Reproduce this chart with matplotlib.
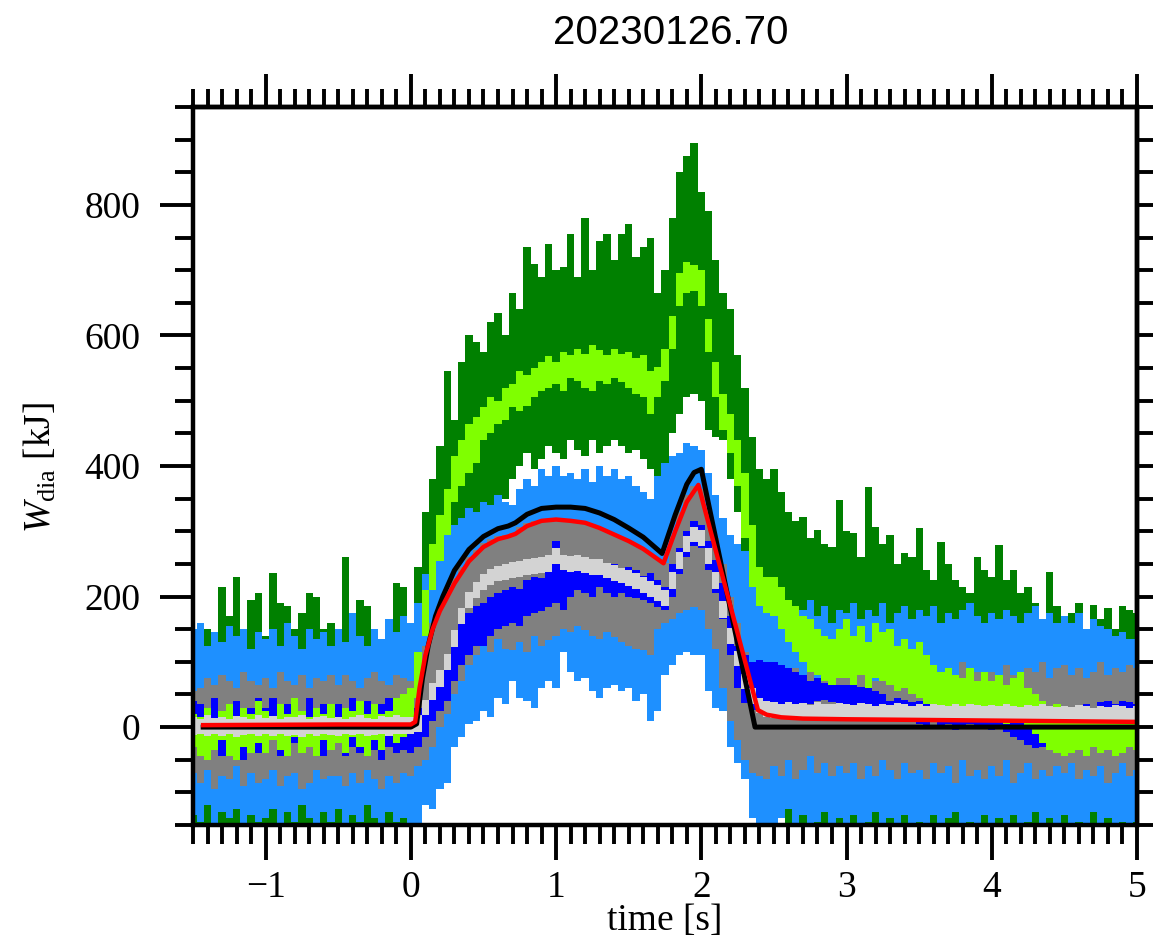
import numpy as np
import matplotlib
matplotlib.use('Agg')
import matplotlib.pyplot as plt
from matplotlib.ticker import MultipleLocator, NullFormatter

plt.rcParams['font.family'] = ['Liberation Serif', 'DejaVu Serif']
plt.rcParams['mathtext.fontset'] = 'custom'
plt.rcParams['mathtext.rm'] = 'Liberation Serif'
plt.rcParams['mathtext.it'] = 'Liberation Serif:italic'

shot = '20230126.70'

# common time base of the noisy traces, 50 ms bins from -1.5 s to 5 s
t = np.round(np.linspace(-1.5, 5.0, 131), 2)

# raw diamagnetic energy, loop 1 (dark green) - lower / upper envelope [kJ]
dg_hi = [120, 110, 150, 140, 215, 170, 230, 150, 195, 205,
         140, 236, 190, 185, 150, 175, 205, 200, 150, 160,
         140, 260, 150, 195, 185, 150, 130, 135, 220, 215,
         160, 245, 330, 380, 430, 545, 470, 560, 600, 590,
         575, 620, 635, 600, 665, 640, 735, 710, 690, 740,
         700, 705, 755, 690, 780, 700, 745, 755, 715, 755,
         770, 720, 735, 750, 665, 700, 780, 850, 875, 895,
         820, 790, 715, 665, 640, 570, 520, 445, 395, 380,
         395, 360, 330, 315, 322, 290, 302, 280, 276, 348,
         300, 297, 260, 368, 307, 280, 294, 250, 267, 261,
         305, 240, 225, 283, 250, 225, 215, 205, 261, 240,
         230, 279, 225, 241, 205, 215, 190, 159, 238, 185,
         164, 175, 190, 150, 187, 165, 182, 150, 185, 180,
         175]
dg_lo = [-160] * 30 + [
         -160, -150, 100, 150, 200, 240, 270, 290, 310, 320,
         330, 320, 345, 350, 380, 400, 420, 395, 410, 430,
         420, 410, 440, 425, 415, 440, 420, 430, 440, 430,
         420, 425, 410, 395, 380, 400, 450, 480, 505, 510,
         500, 455, 445, 440, 380, 330, 260, 200, 130, 60,
         -60, -120] + [-160] * 49

# loop 1 smoothed (chartreuse)
lg_hi = [20, 15, 30, 10, 25, 35, 15, 30, 20, 40,
         25, 15, 35, 20, 45, 25, 15, 30, 20, 35,
         15, 30, 25, 40, 20, 35, 20, 25, 45, 50,
         60, 115, 210, 280, 325, 365, 415, 440, 465, 475,
         490, 505, 500, 520, 525, 545, 540, 550, 560, 568,
         560, 575, 570, 580, 572, 585, 578, 570, 580, 572,
         575, 565, 570, 545, 552, 580, 630, 695, 712, 708,
         700, 625, 560, 510, 480, 440, 390, 310, 245, 230,
         230, 215, 195, 185, 170, 165, 150, 140, 135, 150,
         165, 140, 155, 130, 160, 145, 150, 125, 135, 120,
         130, 110, 95, 85, 90, 80, 75, 90, 70, 85,
         70, 80, 65, 75, 85, 60, 50, 40, 30, 35,
         25, 20, 30, 15, 25, 20, 30, 25, 20, 25,
         20]
lg_lo = [-30, -45, -50, -35, -20, -45, -50, -30, -40, -25,
         -40, -20, -35, -45, -15, -40, -30, -45, -20, -35,
         -25, -40, -15, -30, -45, -20, -35, -10, -25, -15,
         -10, 45, 140, 210, 255, 295, 345, 370, 390, 405,
         440, 450, 465, 470, 490, 485, 492, 505, 515, 520,
         525, 515, 535, 530, 520, 515, 530, 525, 535, 528,
         520, 510, 505, 480, 505, 530, 580, 645, 665, 668,
         645, 575, 505, 455, 420, 370, 290, 215, 185, 175,
         170, 150, 130, 115, 100, 85, 80, 70, 65, 75,
         75, 65, 80, 60, 75, 70, 65, 55, 60, 50,
         45, 35, 20, 25, 15, 20, 10, 20, 15, 25,
         10, 15, 5, 15, 20, 0, -10, -25, -35, -40,
         -45, -40, -35, -45, -30, -40, -35, -45, -40, -30,
         -35]

# raw, loop 2 (dodgerblue)
db_hi = [150, 160, 125, 145, 130, 155, 140, 150, 120, 145,
         135, 150, 125, 160, 140, 120, 150, 135, 145, 125,
         150, 130, 175, 140, 125, 150, 135, 165, 145, 170,
         160, 190, 235, 265, 285, 300, 310, 320, 335, 330,
         345, 340, 355, 345, 340, 365, 380, 370, 395, 385,
         400, 385, 390, 380, 395, 375, 400, 385, 395, 380,
         385, 370, 360, 350, 385, 405, 415, 420, 435, 430,
         425, 390, 355, 320, 295, 280, 270, 225, 205, 195,
         185, 175, 190, 165, 180, 195, 170, 185, 160, 180,
         175, 190, 165, 180, 170, 190, 160, 175, 185, 165,
         180, 170, 185, 160, 175, 165, 180, 190, 170, 160,
         175, 165, 180, 170, 160, 175, 185, 165, 175, 160,
         170, 160, 175, 150, 165, 155, 150, 140, 145, 135,
         135]
db_lo = [-135, -145, -120, -150, -130, -140, -125, -150, -135, -145,
         -140, -125, -150, -130, -145, -120, -140, -150, -130, -145,
         -125, -150, -135, -145, -120, -140, -150, -130, -145, -140,
         -150, -160, -120, -125, -95, -85, -30, -15, 5, 10,
         25, 15, 45, 35, 70, 45, 40, 30, 60, 70,
         60, 115, 85, 70, 75, 55, 45, 60, 65, 55,
         60, 40, 50, 10, 25, 80, 95, 110, 115, 110,
         110, 55, 30, 25, -30, -55, -80, -140, -150, -155,
         -150, -140, -125, -155, -135, -150, -145, -130, -155, -140,
         -150, -135, -155, -145, -130, -150, -140, -155, -135, -150,
         -145, -155, -135, -150, -140, -130, -155, -145, -150, -135,
         -150, -140, -155, -135, -150, -145, -130, -155, -140, -150,
         -135, -150, -145, -155, -130, -150, -140, -155, -145, -150,
         -145]

# raw, loop 3 (gray)
gr_hi = [55, 60, 75, 65, 80, 70, 60, 85, 70, 65,
         75, 60, 85, 70, 65, 80, 60, 75, 70, 80,
         65, 80, 70, 60, 75, 85, 70, 65, 80, 75,
         70, 90, 125, 160, 185, 208, 228, 245, 260, 272,
         282, 288, 292, 294, 298, 306, 312, 316, 318, 318,
         320, 318, 316, 315, 312, 310, 305, 300, 296, 290,
         285, 278, 272, 265, 258, 252, 292, 330, 355, 370,
         365, 330, 290, 250, 200, 160, 115, 75, 100, 95,
         85, 95, 75, 90, 80, 100, 70, 85, 95, 80,
         90, 75, 85, 100, 70, 95, 80, 90, 75, 85,
         80, 95, 70, 85, 90, 75, 100, 80, 85, 70,
         85, 75, 95, 80, 70, 90, 85, 100, 75, 90,
         95, 80, 90, 75, 85, 100, 80, 90, 85, 95,
         90]
gr_lo = [-70, -85, -65, -95, -75, -80, -60, -90, -70, -85,
         -80, -65, -90, -75, -70, -95, -85, -65, -80, -75,
         -75, -90, -70, -85, -65, -80, -95, -75, -85, -70,
         -75, -60, -50, -30, 0, 20, 50, 70, 95, 110,
         125, 115, 135, 120, 118, 130, 115, 140, 125, 133,
         140, 150, 145, 155, 149, 140, 135, 145, 138, 130,
         125, 120, 118, 110, 150, 159, 165, 175, 180, 184,
         180, 150, 120, 60, 10, -20, -50, -70, -75, -80,
         -60, -75, -50, -80, -65, -45, -70, -55, -75, -60,
         -70, -55, -80, -60, -75, -50, -65, -80, -55, -70,
         -65, -80, -55, -70, -60, -85, -50, -75, -65, -80,
         -60, -75, -50, -85, -70, -55, -80, -65, -75, -60,
         -70, -55, -80, -65, -75, -60, -85, -70, -55, -75,
         -65]

# loop 2 smoothed (blue)
bl_hi = [40, 35, 30, 45, 20, 35, 40, 25, 30, 45,
         30, 45, 25, 35, 40, 20, 45, 30, 35, 25,
         35, 25, 45, 30, 40, 20, 35, 45, 30, 25,
         25, 30, 40, 65, 85, 95, 130, 160, 175, 185,
         190, 200, 205, 210, 215, 212, 225, 230, 228, 240,
         285, 240, 250, 256, 248, 252, 256, 245, 250, 240,
         245, 240, 232, 236, 225, 215, 250, 275, 300, 315,
         310, 285, 256, 220, 170, 125, 110, 100, 103, 100,
         100, 95, 90, 85, 80, 70, 75, 67, 70, 65,
         65, 70, 61, 60, 55, 50, 40, 45, 42, 38,
         40, 35, 38, 30, 35, 32, 28, 35, 30, 33,
         30, 35, 28, 32, 25, 20, 15, 10, 12, 18,
         25, 30, 28, 35, 30, 38, 40, 35, 40, 38,
         35]
bl_lo = [-30, -15, -40, -25, -45, -20, -35, -50, -25, -40,
         -35, -20, -45, -30, -25, -40, -20, -35, -45, -30,
         -25, -45, -30, -40, -20, -35, -50, -30, -40, -35,
         -40, -30, -15, 10, 25, 40, 70, 95, 110, 125,
         125, 140, 150, 155, 160, 155, 170, 175, 178, 184,
         190, 180, 200, 210, 205, 200, 215, 205, 200, 205,
         200, 198, 195, 190, 184, 180, 200, 235, 260, 278,
         275, 240, 205, 165, 110, 60, 37, 26, 30, 28,
         30, 28, 35, 32, 31, 35, 40, 41, 38, 35,
         30, 26, 28, 26, 20, 18, 20, 15, 10, 12,
         5, 0, 8, 2, 5, -5, 0, 5, -3, 2,
         -5, 0, -8, -15, -20, -28, -32, -30, -25, -15,
         -10, -15, -8, -5, -20, -15, -10, -25, -12, -8,
         -10]

# loop 3 smoothed (lightgray)
lgr_hi = [15, 12, 18, 14, 16, 12, 17, 15, 13, 18,
          14, 17, 12, 16, 15, 18, 13, 15, 17, 14,
          16, 13, 15, 18, 14, 12, 17, 15, 19, 16,
          15, 18, 42, 68, 88, 112, 148, 182, 207, 222,
          234, 242, 247, 250, 253, 254, 257, 259, 260, 263,
          275, 264, 262, 263, 260, 257, 257, 252, 248, 244,
          240, 236, 230, 224, 217, 210, 238, 268, 292, 307,
          302, 275, 238, 193, 152, 117, 82, 60, 45, 40,
          38, 36, 39, 35, 37, 34, 38, 36, 35, 37,
          36, 34, 37, 35, 33, 36, 34, 37, 35, 33,
          35, 33, 36, 34, 32, 35, 33, 36, 34, 32,
          34, 32, 35, 33, 31, 34, 32, 35, 33, 31,
          33, 31, 34, 32, 30, 33, 31, 34, 32, 30,
          32]
lgr_lo = [-12, -10, -14, -11, -13, -10, -15, -12, -11, -14,
          -11, -14, -10, -13, -12, -15, -11, -13, -10, -12,
          -13, -11, -12, -10, -14, -12, -10, -13, -11, -10,
          -10, -8, 18, 42, 62, 88, 122, 158, 183, 198,
          210, 218, 224, 226, 228, 230, 233, 234, 236, 238,
          250, 240, 238, 239, 236, 233, 233, 228, 224, 220,
          216, 212, 206, 200, 193, 186, 212, 242, 268, 283,
          278, 250, 212, 167, 128, 93, 58, 36, 21, 16,
          14, 12, 15, 11, 13, 12, 14, 10, 13, 12,
          12, 10, 13, 11, 12, 10, 13, 11, 12, 10,
          11, 10, 12, 9, 11, 10, 12, 9, 11, 10,
          10, 9, 11, 8, 10, 9, 11, 8, 10, 9,
          10, 8, 11, 9, 10, 8, 11, 9, 10, 8,
          9]

# reconstructed energies (smooth curves)
black_t = [-1.43, 0.0, 0.04, 0.08, 0.12, 0.17, 0.22, 0.3, 0.4, 0.5, 0.6, 0.67,
           0.72, 0.8, 0.9, 1.0, 1.1, 1.2, 1.3, 1.4, 1.5, 1.6, 1.73, 1.82, 1.9,
           1.95, 2.0, 2.37, 5.0]
black_v = [0, 0, 5, 75, 125, 170, 200, 240, 272, 292, 304, 308,
           313, 326, 335, 337, 337, 335, 328, 318, 305, 291, 266, 325, 372,
           390, 395, 0, 0]
red_t = [-1.43, -0.5, 0.0, 0.03, 0.06, 0.1, 0.15, 0.2, 0.3, 0.4, 0.5, 0.6,
         0.67, 0.72, 0.8, 0.9, 1.0, 1.1, 1.2, 1.3, 1.4, 1.5, 1.6, 1.74, 1.82,
         1.9, 1.98, 2.39, 2.45, 2.55, 2.7, 3.0, 3.5, 4.0, 4.5, 5.0]
red_v = [3, 4, 4, 8, 60, 110, 150, 178, 220, 254, 276, 288,
         292, 296, 308, 316, 318, 316, 313, 305, 295, 285, 273, 251, 300,
         345, 371, 26, 19, 15, 13, 12, 11, 10, 9, 8]

W, H = 1153, 941
fig = plt.figure(figsize=(W / 100, H / 100), dpi=100)
ax = fig.add_axes([193 / W, 1 - 825 / H, (1137 - 193) / W, (825 - 107) / H])

bands = [(dg_lo, dg_hi, 'green'),
         (db_lo, db_hi, 'dodgerblue'),
         (gr_lo, gr_hi, 'gray'),
         (bl_lo, bl_hi, 'blue'),
         (lg_lo, lg_hi, 'chartreuse'),
         (lgr_lo, lgr_hi, 'lightgray')]
for z, (lo, hi, c) in enumerate(bands):
    ax.fill_between(t, lo, hi, step='mid', color=c, lw=0, zorder=z + 1)
ax.plot(black_t, black_v, color='black', lw=3.6, zorder=10)
ax.plot(red_t, red_v, color='red', lw=3.2, zorder=11)

ax.set_xlim(-1.5, 5.0)
ax.set_ylim(-150, 950)
for s in ax.spines.values():
    s.set_linewidth(3.2)
    s.set_zorder(20)

ax.xaxis.set_major_locator(MultipleLocator(1))
ax.xaxis.set_minor_locator(MultipleLocator(0.1))
ax.yaxis.set_major_locator(MultipleLocator(200))
ax.yaxis.set_minor_locator(MultipleLocator(50))
ax.tick_params(axis='x', which='major', direction='out', length=25, width=2.8,
               pad=8, labelsize=27)
ax.tick_params(axis='x', which='minor', direction='out', length=14, width=2.8)
ax.tick_params(axis='y', which='major', direction='out', length=24, width=2.8,
               pad=14, labelsize=27)
ax.tick_params(axis='y', which='minor', direction='out', length=13, width=2.8)

# tick marks on the top and right frame, no labels
top = ax.secondary_xaxis('top')
top.xaxis.set_major_locator(MultipleLocator(1))
top.xaxis.set_minor_locator(MultipleLocator(0.1))
top.xaxis.set_major_formatter(NullFormatter())
top.tick_params(which='major', direction='out', length=24, width=2.8)
top.tick_params(which='minor', direction='out', length=13, width=2.8)
top.spines['top'].set_linewidth(3.2)

right = ax.secondary_yaxis('right')
right.yaxis.set_major_locator(MultipleLocator(200))
right.yaxis.set_minor_locator(MultipleLocator(50))
right.yaxis.set_major_formatter(NullFormatter())
right.tick_params(which='major', direction='out', length=24, width=2.8)
right.tick_params(which='minor', direction='out', length=13, width=2.8)
right.spines['right'].set_linewidth(3.2)

fig.text(0.582, 1 - 33 / H, shot, family='Liberation Sans', fontsize=29,
         ha='center', va='center')
fig.text(40 / W, 1 - 467 / H, r'$W_{\mathrm{dia}}$ [kJ]', rotation=90,
         fontsize=27, ha='center', va='center')
fig.text(665 / W, 1 - 921 / H, 'time [s]', fontsize=27, ha='center', va='center')

fig.savefig('out.png', dpi=100)
